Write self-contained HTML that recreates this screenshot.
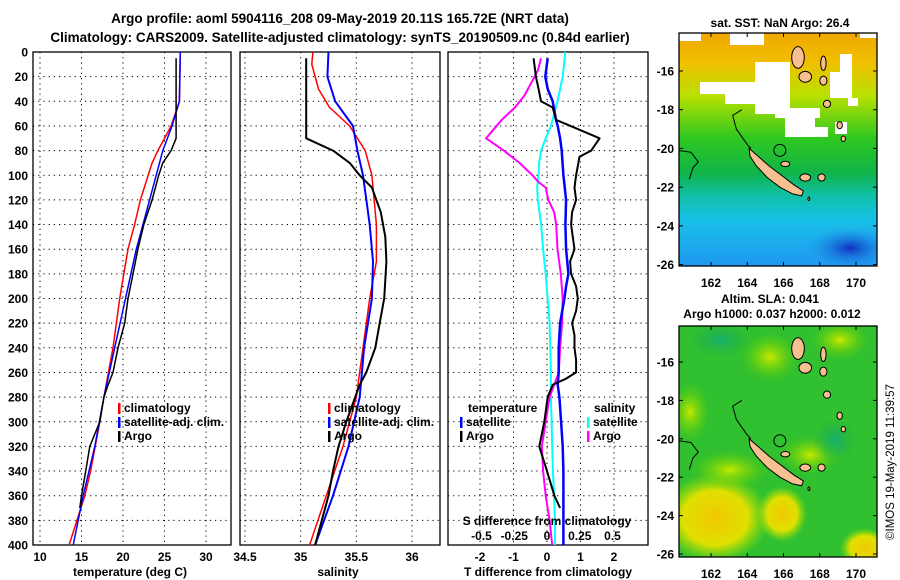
<!DOCTYPE html>
<html><head><meta charset="utf-8"><style>
body{margin:0;background:#fff;}
svg{display:block;font-family:"Liberation Sans",sans-serif;font-weight:bold;}
</style></head><body>
<svg id="c" width="900" height="580" viewBox="0 0 900 580">
<defs>
<linearGradient id="sstg" x1="0" y1="0" x2="0" y2="1">
<stop offset="0" stop-color="#f0a800"/><stop offset="0.13" stop-color="#f0c000"/><stop offset="0.27" stop-color="#b8e000"/><stop offset="0.45" stop-color="#30c820"/><stop offset="0.6" stop-color="#10b448"/><stop offset="0.7" stop-color="#10c0a8"/><stop offset="0.8" stop-color="#18c0e8"/><stop offset="1" stop-color="#2098f0"/>
</linearGradient>
<radialGradient id="dkb"><stop offset="0" stop-color="#1030c0"/><stop offset="1" stop-color="#2098f0" stop-opacity="0"/></radialGradient>
<radialGradient id="yel"><stop offset="0" stop-color="#f0c800"/><stop offset="0.6" stop-color="#e0e000"/><stop offset="1" stop-color="#a0e000" stop-opacity="0"/></radialGradient>
<radialGradient id="yg"><stop offset="0" stop-color="#c8e800"/><stop offset="1" stop-color="#60d000" stop-opacity="0"/></radialGradient>
<radialGradient id="teal"><stop offset="0" stop-color="#18b070"/><stop offset="1" stop-color="#20b040" stop-opacity="0"/></radialGradient>
<clipPath id="cm1"><rect x="679" y="33" width="198" height="233"/></clipPath>
<clipPath id="cm2"><rect x="679" y="326" width="198" height="231"/></clipPath>
</defs>
<text x="340" y="23" text-anchor="middle" font-size="13.5">Argo profile: aoml 5904116_208 09-May-2019 20.11S 165.72E (NRT data)</text>
<text x="340" y="42" text-anchor="middle" font-size="13.5">Climatology: CARS2009. Satellite-adjusted climatology: synTS_20190509.nc (0.84d earlier)</text>
<g id="g1"></g>
<g id="g2"></g>
<g id="g3"></g>
<g id="map1" clip-path="url(#cm1)">
<rect x="679" y="33" width="198" height="233" fill="url(#sstg)"/>
<ellipse cx="850" cy="248" rx="45" ry="22" fill="url(#dkb)"/>
<rect x="679" y="33" width="22" height="8" fill="#fff"/>
<rect x="730" y="33" width="34" height="12" fill="#fff"/>
<rect x="700" y="82" width="60" height="12" fill="#fff"/>
<rect x="725" y="94" width="60" height="10" fill="#fff"/>
<rect x="755" y="62" width="35" height="52" fill="#fff"/>
<rect x="775" y="108" width="45" height="10" fill="#fff"/>
<rect x="785" y="118" width="30" height="19" fill="#fff"/>
<rect x="830" y="72" width="22" height="26" fill="#fff"/>
<rect x="840" y="54" width="12" height="18" fill="#fff"/>
<rect x="808" y="127" width="20" height="10" fill="#fff"/>
<rect x="835" y="122" width="12" height="12" fill="#fff"/>
<rect x="860" y="33" width="17" height="5" fill="#fff"/>
<rect x="848" y="98" width="10" height="8" fill="#fff"/>
</g>
<g id="map2" clip-path="url(#cm2)">
<rect x="679" y="326" width="198" height="231" fill="#30c030"/>
<ellipse cx="715" cy="518" rx="55" ry="45" fill="url(#yel)"/>
<ellipse cx="782" cy="514" rx="25" ry="28" fill="url(#yel)"/>
<ellipse cx="865" cy="548" rx="25" ry="20" fill="url(#yel)"/>
<ellipse cx="770" cy="357" rx="30" ry="25" fill="url(#yg)"/>
<ellipse cx="730" cy="470" rx="40" ry="20" fill="url(#yg)"/>
<ellipse cx="810" cy="455" rx="30" ry="20" fill="url(#yg)"/>
<ellipse cx="840" cy="340" rx="30" ry="20" fill="url(#yg)"/>
<ellipse cx="690" cy="412" rx="20" ry="30" fill="url(#yg)"/>
<ellipse cx="835" cy="440" rx="22" ry="22" fill="url(#teal)"/>
<ellipse cx="720" cy="340" rx="30" ry="18" fill="url(#teal)"/>
</g>
<g id="isl1" clip-path="url(#cm1)"></g>
<g id="isl2" clip-path="url(#cm2)"></g>
<g id="mapaxes"></g>
<text x="780" y="27" text-anchor="middle" font-size="12">sat. SST: NaN Argo: 26.4</text>
<text x="770" y="303" text-anchor="middle" font-size="12">Altim. SLA: 0.041</text>
<text x="772" y="318" text-anchor="middle" font-size="12">Argo h1000: 0.037 h2000: 0.012</text>
<text transform="translate(894,462) rotate(-90)" text-anchor="middle" font-size="11.5" font-weight="normal">©IMOS 19-May-2019 11:39:57</text>
</svg>
<script>
// depth grid
const yTicks=[0,20,40,60,80,100,120,140,160,180,200,220,240,260,280,300,320,340,360,380,400];
// temperature panel
const tTicks=[10,15,20,25,30];
const tArgoD=[5,70,80,90,100,120,140,160,180,200,220,240,260,270,280,300,320,340,360,370];
const tArgoV=[26.4,26.4,25.8,24.8,24.3,23.5,22.5,21.8,21.2,20.6,20.2,19.4,18.8,18.2,17.7,17.2,16.0,15.5,15.0,14.8];
const tClimD=[0,40,50,60,80,90,120,140,160,200,240,280,300,340,360,400];
const tClimV=[26.9,26.8,26.3,25.8,24.2,23.5,22.1,21.4,20.6,19.6,18.8,17.7,17.2,16.1,15.4,13.5];
const tSatD=[0,40,60,80,100,120,160,200,240,280,320,360,400];
const tSatV=[26.9,26.8,25.9,24.8,24.0,23.2,21.6,20.3,19.0,17.7,16.6,15.2,14.0];
// salinity panel
const sTicks=[34.5,35,35.5,36];
const sArgoD=[5,70,80,90,100,110,130,150,170,200,220,240,260,270,280,300,320,340,360,380,400];
const sArgoV=[35.05,35.05,35.29,35.44,35.53,35.64,35.72,35.76,35.77,35.75,35.71,35.67,35.59,35.53,35.49,35.41,35.34,35.29,35.25,35.19,35.13];
const sClimD=[0,10,30,45,60,80,100,140,170,200,240,280,320,360,400];
const sClimV=[35.11,35.10,35.16,35.26,35.44,35.58,35.64,35.68,35.68,35.62,35.56,35.50,35.38,35.23,35.08];
const sSatD=[0,20,40,60,80,100,140,170,200,240,280,320,360,400];
const sSatV=[35.25,35.24,35.31,35.47,35.51,35.56,35.62,35.65,35.64,35.57,35.53,35.43,35.29,35.13];
// difference panel
const dTicks=[-2,-1,0,1,2];
const dsTicks=[-0.5,-0.25,0,0.25,0.5];
const dsTickLabels=["-0.5","-0.25","0","0.25","0.5"];
const dtArgoD=[5,20,30,40,45,55,70,80,85,100,110,120,130,140,150,160,170,180,190,200,210,220,230,240,250,260,265,270,280,300,320,340,360,370];
const dtArgoV=[-0.4,-0.33,-0.25,-0.18,0.17,0.27,1.57,1.32,0.97,0.87,0.82,0.87,0.75,0.72,0.77,0.82,0.69,0.72,0.87,0.92,0.87,0.75,0.82,0.82,0.87,0.87,0.57,0.17,0.02,-0.08,-0.23,0,0.22,0.39];
const dtSatD=[5,20,30,40,55,60,70,80,100,120,140,160,180,190,200,220,240,260,270,280,300,320,340,360,380,400];
const dtSatV=[0.02,-0.05,0.02,0.17,0.27,0.32,0.39,0.44,0.49,0.57,0.55,0.57,0.64,0.57,0.52,0.39,0.35,0.35,0.32,0.37,0.42,0.47,0.49,0.49,0.49,0.49];
const dsSatD=[0,20,40,50,60,70,80,90,100,110,120,140,160,180,200,220,240,260,280,300,320,340,360,380,400];
const dsSatV=[0.14,0.12,0.08,0.055,0.03,-0.01,-0.045,-0.06,-0.065,-0.075,-0.07,-0.045,-0.03,-0.01,0.005,0.02,0.025,0.03,0.03,0.035,0.04,0.045,0.055,0.06,0.06];
const dsArgoD=[5,15,25,35,45,55,70,80,90,95,100,105,110,120,130,140,160,180,200,220,240,260,270,280,300,320,340,360,380,400];
const dsArgoV=[-0.045,-0.07,-0.12,-0.17,-0.245,-0.345,-0.465,-0.33,-0.21,-0.16,-0.11,-0.07,-0.01,0.01,0.055,0.07,0.08,0.105,0.12,0.115,0.1,0.09,0.055,0.02,-0.01,-0.04,-0.03,-0.01,0.02,0.04];
// map axes
const lonTicks=[162,164,166,168,170];
const latTicks=[-16,-18,-20,-22,-24,-26];

const NS='http://www.w3.org/2000/svg';
function mk(tag,attrs,parent,txt){const e=document.createElementNS(NS,tag);for(const k in attrs)e.setAttribute(k,attrs[k]);if(txt!==undefined)e.textContent=txt;parent.appendChild(e);return e;}
const PB=545;
const yD=d=>52+d*(PB-52)/400;
const xT=t=>40+(t-10)*8.3;
const xS=s=>245+(s-34.5)*111.33;
const xDT=t=>547+t*33.5;
const xDS=s=>547+s*131;

function panel(g,x0,x1,xTicksPx,xLabels,showY){
  for(const d of yTicks){
    const l=mk('line',{x1:x0,x2:x1,y1:yD(d),y2:yD(d),stroke:'#000','stroke-dasharray':'1.2,4','stroke-width':1},g);
    
    
    if(showY){
      const t=mk('text',{x:28,y:yD(d)+4.5,'text-anchor':'end','font-size':12},g,String(d));
      
      
    }
  }
  xTicksPx.forEach((px,i)=>{
    const l=mk('line',{x1:px,x2:px,y1:52,y2:PB,stroke:'#000','stroke-dasharray':'1.2,4','stroke-width':1},g);
    
    
    const t=mk('text',{x:px,y:561,'text-anchor':'middle','font-size':12},g,xLabels[i]);
    
    
  });
  const r=mk('rect',{x:x0,y:52,width:x1-x0,height:PB-52,fill:'none',stroke:'#000','stroke-width':1.3},g);
  
  
}
function line(g,D,V,xf,color,w,name){
  const pts=D.map((d,i)=>xf(V[i]).toFixed(1)+','+yD(d).toFixed(1)).join(' ');
  const p=mk('polyline',{points:pts,fill:'none',stroke:color,'stroke-width':w,'stroke-linejoin':'round'},g);
  
  
}
function legend(g,x,y,color,label,name){
  const r=mk('rect',{x:x,y:y-9,width:2.5,height:11,fill:color},g);
  
  
  const t=mk('text',{x:x+6,y:y,'font-size':12},g,label);
  
  
}
const g1=document.getElementById('g1'),g2=document.getElementById('g2'),g3=document.getElementById('g3');
panel(g1,33,231,tTicks.map(xT),tTicks.map(String),true);
line(g1,tClimD,tClimV,xT,'#f00',1.5,'temperature-climatology-line');
line(g1,tSatD,tSatV,xT,'#00f',1.5,'temperature-satellite-line');
line(g1,tArgoD,tArgoV,xT,'#000',1.5,'temperature-argo-line');
legend(g1,118,412,'#f00','climatology','legend-climatology');
legend(g1,118,426,'#00f','satellite-adj. clim.','legend-satellite');
legend(g1,118,440,'#000','Argo','legend-argo');
let t=mk('text',{x:130,y:576,'text-anchor':'middle','font-size':12},g1,'temperature (deg C)');


panel(g2,240,440,sTicks.map(xS),sTicks.map(String),false);
line(g2,sClimD,sClimV,xS,'#f00',1.5,'salinity-climatology-line');
line(g2,sSatD,sSatV,xS,'#00f',2,'salinity-satellite-line');
line(g2,sArgoD,sArgoV,xS,'#000',2,'salinity-argo-line');
legend(g2,328,412,'#f00','climatology','legend-climatology');
legend(g2,328,426,'#00f','satellite-adj. clim.','legend-satellite');
legend(g2,328,440,'#000','Argo','legend-argo');
t=mk('text',{x:338,y:576,'text-anchor':'middle','font-size':12},g2,'salinity');


panel(g3,448,648,dTicks.map(xDT),dTicks.map(String),false);
line(g3,dsSatD,dsSatV,xDS,'#00ffff',2,'salinity-satellite-diff-line');
line(g3,dsArgoD,dsArgoV,xDS,'#ff00ff',2,'salinity-argo-diff-line');
line(g3,dtSatD,dtSatV,xDT,'#0000ff',2.5,'temperature-satellite-diff-line');
line(g3,dtArgoD,dtArgoV,xDT,'#000',2,'temperature-argo-diff-line');
t=mk('text',{x:468,y:412,'font-size':12},g3,'temperature');

legend(g3,460,426,'#00f','satellite','legend-temp-satellite');
legend(g3,460,440,'#000','Argo','legend-temp-argo');
t=mk('text',{x:594,y:412,'font-size':12},g3,'salinity');

legend(g3,587,426,'#00ffff','satellite','legend-sal-satellite');
legend(g3,587,440,'#ff00ff','Argo','legend-sal-argo');
t=mk('text',{x:547,y:525,'text-anchor':'middle','font-size':12},g3,'S difference from climatology');

dsTicks.forEach((v,i)=>{
  const tt=mk('text',{x:xDS(v),y:540,'text-anchor':'middle','font-size':12},g3,dsTickLabels[i]);
  
  
});
t=mk('text',{x:548,y:576,'text-anchor':'middle','font-size':12},g3,'T difference from climatology');


// maps
const maps=[{y0:33,y1:266,latY:la=>71+(-16-la)*19.36,g:'isl1',ly:287},{y0:326,y1:557,latY:la=>362+(-16-la)*19.2,g:'isl2',ly:578}];
const lonX=l=>711+(l-162)*18.125;
const ax=document.getElementById('mapaxes');
const nc=[[164.1,-20.0],[164.6,-20.4],[165.2,-20.9],[165.9,-21.4],[166.6,-21.9],[167.1,-22.2],[167.0,-22.45],[166.5,-22.35],[165.8,-22.0],[165.1,-21.5],[164.5,-20.9],[164.15,-20.4]];
const gt=[[163.7,-18.0],[163.2,-18.3],[163.4,-19.0],[164.0,-19.8],[164.2,-20.0]];
const smallIs=[[166.8,-15.3,0.35,0.6],[167.2,-16.3,0.35,0.3],[168.2,-15.6,0.15,0.4],[168.2,-16.5,0.2,0.25],[168.4,-17.7,0.2,0.2],[169.1,-18.8,0.15,0.2],[169.3,-19.5,0.12,0.15],[167.2,-21.5,0.3,0.2],[168.1,-21.5,0.2,0.2],[166.1,-20.8,0.25,0.15],[167.4,-22.6,0.05,0.1]];
maps.forEach((m,mi)=>{
  const gi=document.getElementById(m.g);
  const p=mk('polygon',{points:nc.map(q=>lonX(q[0]).toFixed(1)+','+m.latY(q[1]).toFixed(1)).join(' '),fill:'#f8c090',stroke:'#000','stroke-width':1},gi);
  
  const pl=mk('polyline',{points:gt.map(q=>lonX(q[0]).toFixed(1)+','+m.latY(q[1]).toFixed(1)).join(' '),fill:'none',stroke:'#000','stroke-width':1},gi);
  
  const c=mk('circle',{cx:lonX(165.8),cy:m.latY(-20.1),r:6,fill:'none',stroke:'#000','stroke-width':1},gi);
  
  const ch=mk('polyline',{points:[[160.2,-20.1],[160.9,-20.2],[161.3,-20.7],[161.0,-21.0],[160.8,-21.6]].map(q=>lonX(q[0]).toFixed(1)+','+m.latY(q[1]).toFixed(1)).join(' '),fill:'none',stroke:'#000','stroke-width':1},gi);
  
  smallIs.forEach(s=>{
    const e=mk('ellipse',{cx:lonX(s[0]),cy:m.latY(s[1]),rx:s[2]*18,ry:s[3]*18,fill:'#f8c090',stroke:'#000','stroke-width':1},gi);
    
  });
  const r=mk('rect',{x:679,y:m.y0,width:198,height:m.y1-m.y0,fill:'none',stroke:'#000','stroke-width':1.3},ax);
  
  lonTicks.forEach(l=>{
    mk('line',{x1:lonX(l),x2:lonX(l),y1:m.y0,y2:m.y0+4,stroke:'#000'},ax);
    mk('line',{x1:lonX(l),x2:lonX(l),y1:m.y1,y2:m.y1-4,stroke:'#000'},ax);
    const tt=mk('text',{x:lonX(l),y:m.ly,'text-anchor':'middle','font-size':12},ax,String(l));
    
    
  });
  latTicks.forEach(la=>{
    mk('line',{x1:679,x2:683,y1:m.latY(la),y2:m.latY(la),stroke:'#000'},ax);
    mk('line',{x1:877,x2:873,y1:m.latY(la),y2:m.latY(la),stroke:'#000'},ax);
    const tt=mk('text',{x:674,y:m.latY(la)+4.5,'text-anchor':'end','font-size':12},ax,String(la));
    
    
  });
});
</script>
</body></html>
